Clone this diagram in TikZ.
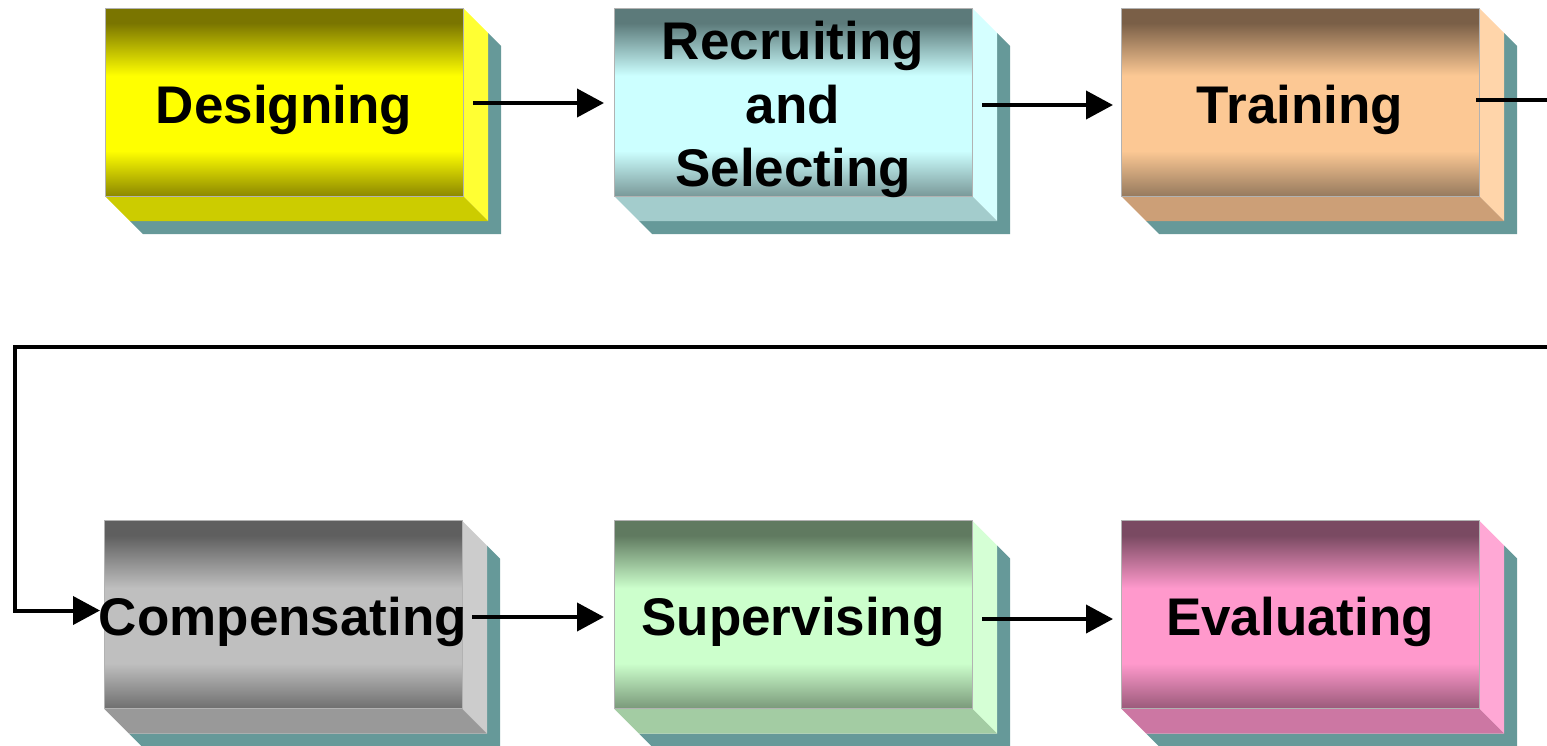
\documentclass[tikz,border=0pt]{standalone}
\usepackage{fontspec}
\setmainfont{Liberation Sans}
\usetikzlibrary{arrows.meta,backgrounds}

% vertical face gradient: dark top, bright middle band, darker bottom
\pgfdeclareverticalshading[facetop,facemid,facebot]{facegrad}{100bp}{%
  color(0bp)=(facebot); color(25bp)=(facebot); color(37bp)=(facemid);
  color(57bp)=(facemid); color(71bp)=(facetop); color(100bp)=(facetop)}

\definecolor{shadowteal}{HTML}{669999}
% Designing
\definecolor{desTop}{HTML}{7A7500}\definecolor{desMid}{HTML}{FFFF00}\definecolor{desBot}{HTML}{8C8800}
\definecolor{desSide}{HTML}{FFFF33}\definecolor{desBase}{HTML}{CCCC00}
% Recruiting and Selecting
\definecolor{recTop}{HTML}{5C7A7A}\definecolor{recMid}{HTML}{CCFFFF}\definecolor{recBot}{HTML}{7A9999}
\definecolor{recSide}{HTML}{D5FFFF}\definecolor{recBase}{HTML}{A3CCCC}
% Training
\definecolor{trnTop}{HTML}{7A5F47}\definecolor{trnMid}{HTML}{FCC894}\definecolor{trnBot}{HTML}{967A5E}
\definecolor{trnSide}{HTML}{FFD5AA}\definecolor{trnBase}{HTML}{CC9F77}
% Compensating
\definecolor{cmpTop}{HTML}{5F5F5F}\definecolor{cmpMid}{HTML}{BFBFBF}\definecolor{cmpBot}{HTML}{6F6F6F}
\definecolor{cmpSide}{HTML}{CCCCCC}\definecolor{cmpBase}{HTML}{999999}
% Supervising
\definecolor{supTop}{HTML}{607A60}\definecolor{supMid}{HTML}{CCFFCC}\definecolor{supBot}{HTML}{7A997A}
\definecolor{supSide}{HTML}{D5FFD5}\definecolor{supBase}{HTML}{A3CCA3}
% Evaluating
\definecolor{evaTop}{HTML}{7A4A62}\definecolor{evaMid}{HTML}{FF99CC}\definecolor{evaBot}{HTML}{9A5A7A}
\definecolor{evaSide}{HTML}{FFA8D5}\definecolor{evaBase}{HTML}{CC77A3}

\tikzset{
  stage/.style={
    /utils/exec={\colorlet{facetop}{#1Top}\colorlet{facemid}{#1Mid}\colorlet{facebot}{#1Bot}},
    shading=facegrad, draw=black!30, line width=0.5pt,
    minimum width=358pt, minimum height=188pt, inner sep=0pt, outer sep=0pt,
    font=\fontsize{53pt}{63.5pt}\selectfont\bfseries,
    text height=42pt, text depth=0pt},
  stagemulti/.style={stage=#1, align=center, text height=169pt},
  flow/.style={line width=4pt, -{Triangle[length=27pt,width=28pt]}}
}

\begin{document}
\begin{tikzpicture}[x=1pt,y=-1pt]
  \useasboundingbox (0,0) rectangle (1547,745);
  \clip (0,0) rectangle (1547,745);

  % front faces (a long label may run past the face edges)
  \node[stage=des]      (des) at (284,102)   {Designing};
  \node[stagemulti=rec] (rec) at (793,102)   {Recruiting\\and\\Selecting};
  \node[stage=trn]      (trn) at (1300,102)  {Training};
  \node[stage=cmp]      (cmp) at (283,614.5) {\makebox[0pt][c]{Compensating}};
  \node[stage=sup]      (sup) at (793,614.5) {Supervising};
  \node[stage=eva]      (eva) at (1300,614.5){Evaluating};

  % bevel sides and drop shadows behind the faces
  \begin{scope}[on background layer]
    \foreach \n in {des,rec,trn,cmp,sup,eva}{
      \fill[shadowteal]
        ([shift={(25,25)}]\n.north east) -- ([shift={(38,38)}]\n.north east)
        -- ([shift={(38,38)}]\n.south east) -- ([shift={(38,38)}]\n.south west)
        -- ([shift={(25,25)}]\n.south west) -- ([shift={(25,25)}]\n.south east) -- cycle;
      \fill[\n Side]
        (\n.north east) -- ([shift={(25,25)}]\n.north east)
        -- ([shift={(25,25)}]\n.south east) -- (\n.south east) -- cycle;
      \fill[\n Base]
        (\n.south west) -- (\n.south east)
        -- ([shift={(25,25)}]\n.south east) -- ([shift={(25,25)}]\n.south west) -- cycle;
    }
  \end{scope}

  % route of the return line round the right edge
  \coordinate (turnR) at (1565,347);
  \coordinate (turnL) at (15,347);

  % connectors
  \draw[flow] ([shift={(10,1)}]des.east) -- ([shift={(-10,1)}]rec.west);
  \draw[flow] ([shift={(10,3)}]rec.east) -- ([shift={(-8,3)}]trn.west);
  \draw[flow] ([shift={(-3,-2)}]trn.east) -| (turnR) -- (turnL) |- ([shift={(-4,-4)}]cmp.west);
  \draw[flow] ([shift={(10,2.5)}]cmp.east) -- ([shift={(-10,2.5)}]sup.west);
  \draw[flow] ([shift={(10,4.5)}]sup.east) -- ([shift={(-8,4.5)}]eva.west);
\end{tikzpicture}
\end{document}
